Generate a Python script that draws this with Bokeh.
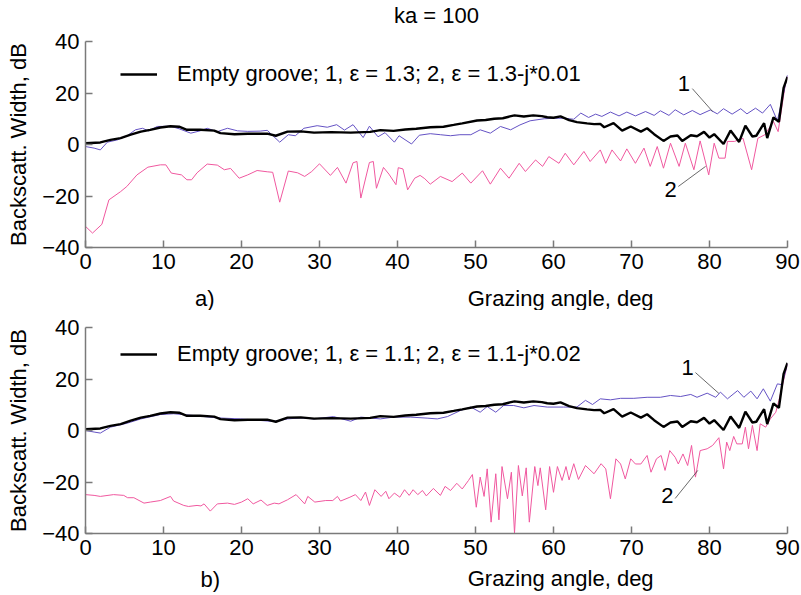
from bokeh.plotting import figure
from bokeh.layouts import column
from bokeh.models import FixedTicker, Label, Legend, LegendItem, Arrow
from bokeh.embed import file_html
from bokeh.resources import INLINE

# ---------------- data ----------------
# Empty groove (black, same in both panels)
empty_x = [0, 1.9, 3.2, 4.5, 5.8, 7.1, 8.3, 9.6, 10.9, 12.0, 13.0, 14.7, 16.5, 17.3, 19.1, 20.8,
           23.3, 24.4, 25.9, 27.6, 29.3, 31.5, 34.0, 36.5, 37.8, 39.5, 41.0, 42.4, 44.2, 45.9,
           47.2, 48.3, 50.2, 51.3, 52.4, 53.5, 54.4, 55.0, 56.2, 57.4, 58.5, 59.2, 60.0, 60.9,
           62.0, 63.0, 64.3, 65.2, 66.0, 66.5, 67.7, 68.8, 69.9, 71.2, 72.0, 72.9, 74.1, 75.0,
           75.9, 76.5, 77.6, 78.4, 79.3, 80.0, 80.6, 81.8, 82.7, 83.8, 84.6, 85.5, 86.0, 87.0,
           87.4, 88.2, 88.9, 89.5, 90.0]
empty_y = [0.5, 0.8, 1.8, 2.5, 3.8, 5.0, 5.7, 6.6, 7.1, 6.9, 5.7, 5.7, 5.4, 4.4, 4.0, 4.2,
           4.2, 3.4, 5.0, 5.1, 4.6, 4.8, 4.6, 4.9, 5.6, 5.3, 5.8, 6.1, 6.7, 6.9,
           7.6, 8.2, 9.3, 9.5, 10.0, 10.2, 10.9, 11.3, 10.9, 11.3, 11.0, 10.6, 10.4, 10.9,
           9.5, 8.7, 8.2, 7.9, 8.0, 6.7, 8.3, 5.4, 7.0, 5.0, 6.3, 4.0, 1.4, 3.1,
           3.5, 1.4, 3.6, 3.2, 4.9, 2.7, 4.0, 0.2, 5.4, 1.0, 7.3, 3.1, 3.4, 8.3,
           2.5, 10.5, 8.8, 22.0, 26.3]

# Panel a), curve 1: eps = 1.3
a1_x = [0, 1.1, 1.9, 2.8, 4.1, 5.4, 6.4, 7.3, 8.1, 9.2, 10.9, 12.0, 13.5, 14.7, 15.6, 16.9,
        18.2, 19.5, 20.8, 22.4, 23.3, 24.9, 26.0, 26.9, 28.0, 29.7, 31.0, 32.2, 33.2, 34.3,
        35.6, 36.4, 37.5, 38.4, 39.6, 40.2, 41.8, 42.8, 44.2, 45.5, 46.8, 48.0, 49.4, 50.6,
        51.9, 53.2, 54.5, 55.7, 57.0, 58.8, 60.3, 61.4, 62.6, 63.5, 64.5, 65.4, 66.2, 67.3,
        68.4, 69.4, 70.5, 71.8, 72.9, 73.7, 74.8, 75.6, 76.7, 77.8, 78.8, 80.1, 81.0, 81.8,
        82.9, 84.0, 84.8, 85.9, 86.8, 87.8, 88.7, 89.5, 90.0]
a1_y = [-0.8, -1.4, -2.1, 0.9, 1.8, 3.5, 5.7, 6.3, 5.3, 7.0, 7.1, 6.1, 4.4, 5.3, 6.3, 5.0,
        6.3, 5.3, 5.1, 5.2, 5.5, 0.9, 3.8, 3.4, 6.3, 7.3, 6.7, 7.7, 5.6, 7.7,
        2.7, 7.1, 3.0, 4.6, 0.9, 3.4, 0.2, 3.6, 4.2, 3.8, 3.4, 3.8, 3.8, 5.7,
        4.4, 7.0, 5.7, 7.6, 9.2, 10.0, 10.2, 10.2, 9.8, 12.2, 10.5, 11.8, 10.9, 12.6,
        11.1, 12.6, 11.1, 12.8, 11.3, 13.1, 11.3, 13.5, 11.5, 13.2, 11.6, 13.4, 11.9, 13.9,
        11.8, 13.9, 11.9, 14.1, 12.2, 15.6, 9.2, 20.0, 27.0]

# Panel a), curve 2: eps = 1.3 - j*0.01
a2_x = [0, 0.9, 2.1, 3.0, 4.5, 5.3, 6.6, 8.0, 9.6, 10.3, 11.0, 12.3, 13.0, 13.6, 14.3, 15.6,
        16.9, 17.8, 18.6, 19.7, 20.8, 22.0, 23.3, 24.0, 24.9, 26.0, 27.2, 28.1, 29.0, 30.0,
        31.4, 32.3, 33.4, 34.3, 34.8, 35.3, 36.4, 36.9, 37.3, 38.2, 38.9, 39.8, 40.1, 40.7,
        41.3, 42.2, 42.9, 43.5, 44.2, 45.5, 47.0, 48.3, 49.4, 50.9, 51.9, 53.2, 54.3, 55.6,
        56.4, 57.7, 58.6, 59.4, 60.7, 61.5, 62.6, 63.9, 64.7, 66.0, 66.7, 67.5, 68.6, 69.4,
        70.5, 71.6, 72.4, 73.3, 74.1, 75.0, 76.1, 76.9, 78.0, 78.8, 79.9, 80.6, 81.2, 82.0,
        82.3, 83.2, 84.3, 85.4, 86.2, 87.1, 88.2, 88.8, 89.7, 90.0]
a2_y = [-31.8, -34.4, -31.0, -21.5, -18.3, -16.3, -11.8, -8.8, -7.9, -7.9, -11.1, -11.8, -13.7, -13.7, -11.0, -7.6,
        -8.0, -9.8, -9.3, -13.1, -11.8, -10.1, -10.6, -10.8, -22.4, -10.3, -11.0, -12.4, -10.5, -7.5,
        -12.0, -8.9, -15.0, -7.1, -6.6, -20.8, -7.0, -6.6, -17.0, -8.9, -11.5, -15.6, -9.0, -9.5,
        -17.6, -13.1, -12.0, -13.3, -15.4, -12.4, -14.4, -11.1, -15.0, -10.2, -15.4, -9.2, -13.1, -7.3,
        -10.5, -6.0, -8.5, -4.7, -7.3, -3.4, -7.9, -2.7, -6.6, -2.1, -7.3, -2.1, -6.4, -1.7,
        -7.3, -1.4, -8.5, -0.8, -9.2, 0.5, -8.5, 0.5, -9.8, 1.4, -11.8, 0.5, -5.3, -5.3,
        1.2, 1.2, 2.4, -9.8, 2.4, 3.8, 8.9, 5.0, 23.0, 26.4]

# Panel b), curve 1: eps = 1.1
b1_x = [0, 1.1, 1.9, 3.2, 5.3, 7.1, 9.6, 11.3, 13.9, 16.9, 19.9, 22.4, 24.1, 25.9, 27.6, 29.3,
        31.8, 34.0, 35.3, 37.8, 39.5, 41.7, 43.8, 45.1, 46.4, 48.1, 49.4, 50.6, 51.5, 52.6,
        53.6, 54.9, 56.2, 57.5, 59.2, 61.3, 63.0, 64.1, 65.0, 66.0, 67.3, 68.6, 70.3, 72.0,
        73.7, 75.0, 76.3, 77.6, 78.4, 79.7, 80.8, 81.4, 82.3, 83.6, 84.4, 85.3, 86.1, 86.9,
        87.8, 88.7, 89.3, 90.0]
b1_y = [0.0, -0.6, -1.0, 1.3, 2.8, 4.5, 6.2, 6.5, 5.8, 4.9, 4.5, 3.9, 3.5, 4.5, 4.9, 4.5,
        5.4, 3.6, 5.2, 4.5, 5.2, 5.2, 4.8, 4.5, 5.4, 7.8, 9.1, 7.1, 9.3, 7.1,
        9.7, 9.7, 8.8, 9.7, 9.1, 9.1, 9.1, 11.7, 10.1, 12.3, 11.9, 12.5, 12.5, 12.9,
        12.9, 13.6, 13.2, 14.0, 12.9, 14.5, 12.9, 14.9, 12.3, 15.5, 12.9, 15.3, 12.3, 16.2,
        11.4, 18.1, 17.8, 25.9]

# Panel b), curve 2: eps = 1.1 - j*0.02
b2_x = [0, 1.1, 1.9, 3.6, 4.9, 5.4, 6.2, 7.5, 8.3, 9.6, 10.9, 11.3, 12.6, 13.2, 14.3, 14.8,
        15.2, 16.0, 16.9, 18.2, 19.1, 20.0, 20.8, 21.5, 22.5, 23.3, 24.2, 24.8, 25.9, 27.0,
        28.1, 28.5, 29.4, 30.8, 31.7, 32.3, 32.7, 33.9, 34.6, 35.3, 35.9, 36.4, 37.1, 37.9,
        38.5, 38.9, 39.6, 40.3, 40.9, 41.5, 42.0, 42.6, 43.2, 43.7, 44.6, 45.5, 46.1, 46.8,
        47.6, 48.3, 49.1, 49.6, 50.1, 50.6, 51.1, 51.5, 52.0, 52.6, 53.0, 53.4, 54.1, 54.6,
        55.0, 55.5, 56.0, 56.5, 56.9, 57.6, 58.0, 58.3, 59.0, 59.5, 60.0, 60.5, 61.1, 61.6,
        62.0, 62.6, 63.2, 64.1, 65.2, 66.1, 66.7, 67.3, 68.0, 68.6, 69.2, 69.9, 70.5, 71.2,
        72.0, 72.5, 73.2, 73.8, 74.3, 74.9, 75.6, 76.0, 76.6, 77.2, 77.7, 78.2, 78.8, 79.7,
        80.4, 81.2, 81.8, 82.2, 82.6, 83.1, 83.5, 84.2, 84.6, 85.0, 85.5, 86.1, 86.5, 87.2,
        87.8, 88.5, 88.9, 90.0]
b2_y = [-24.9, -25.2, -25.6, -24.9, -25.2, -26.1, -26.1, -28.2, -27.8, -27.2, -25.6, -27.4, -29.1, -29.5, -29.1, -29.3,
        -28.5, -31.3, -28.5, -28.2, -28.7, -27.8, -26.5, -28.5, -27.0, -29.1, -28.2, -28.5, -26.9, -24.9,
        -28.5, -25.6, -27.8, -27.2, -27.2, -25.6, -27.4, -25.9, -24.9, -27.2, -23.9, -29.1, -23.0, -25.6,
        -23.6, -26.5, -24.3, -25.9, -23.0, -25.2, -23.0, -24.9, -23.3, -25.4, -22.5, -25.2, -21.7, -23.3,
        -20.5, -22.7, -19.4, -17.1, -29.8, -18.1, -25.6, -14.9, -35.6, -16.8, -34.7, -14.0, -26.5, -16.2,
        -39.9, -13.6, -25.4, -14.5, -35.6, -14.0, -21.4, -14.5, -30.8, -14.0, -24.0, -14.0, -19.4, -14.0,
        -19.2, -12.9, -19.0, -13.6, -16.8, -12.9, -14.9, -26.5, -11.0, -13.0, -18.8, -11.0, -13.0, -13.0,
        -9.7, -16.2, -11.0, -9.7, -15.5, -7.8, -10.4, -13.0, -9.1, -13.6, -5.8, -18.1, -7.8, -7.1,
        -5.8, -2.8, -14.9, -4.5, -7.8, -2.3, -5.2, -5.2, 1.3, -7.1, 2.0, -7.8, 2.6, 1.3,
        4.5, 7.1, 11.7, 25.9]

x_ticks = [0, 10, 20, 30, 40, 50, 60, 70, 80, 90]
y_ticks = [-40, -20, 0, 20, 40]

title_text = "ka = 100"
legend_a = "Empty groove; 1, \u03b5 = 1.3; 2, \u03b5 = 1.3-j*0.01"
legend_b = "Empty groove; 1, \u03b5 = 1.1; 2, \u03b5 = 1.1-j*0.02"
xlabel_text = "Grazing angle, deg"
ylabel_text = "Backscatt. Width, dB"

# curve-number callouts: (label, label x, label y, leader x0, y0, x1, y1)
callouts_a = [("1", 76.7, 23.7, 77.8, 21.7, 80.4, 12.8),
              ("2", 75.0, -17.5, 76.0, -16.3, 79.5, -8.5)]
callouts_b = [("1", 77.2, 24.5, 78.2, 22.5, 81.2, 14.4),
              ("2", 74.6, -25.2, 75.6, -26.4, 78.5, -15.5)]

FONT = "Liberation Sans"
FS = "22px"
BLUE = "#6452c4"
PINK = "#f0589f"
AXIS = "#7a7a7a"
LEFT, RIGHT = 85, 14


def strip(height):
    s = figure(width=801, height=height, x_range=(0, 90), y_range=(0, height),
               x_axis_type=None, y_axis_type=None, output_backend="svg",
               toolbar_location=None, min_border_left=LEFT, min_border_right=RIGHT,
               min_border_top=0, min_border_bottom=0)
    s.outline_line_color = None
    s.grid.visible = False
    return s


def add_text(p, x, y, t, align):
    p.add_layout(Label(x=x, y=y, text=t, text_align=align, text_baseline="middle",
                       text_font=FONT, text_font_size=FS, text_color="black"))


def make_panel(height, top, bottom, c1x, c1y, c2x, c2y, legend_text, legend_loc, callouts):
    p = figure(width=801, height=height, x_range=(0, 90), y_range=(-40, 40),
               output_backend="svg", toolbar_location=None,
               min_border_left=LEFT, min_border_right=RIGHT,
               min_border_top=top, min_border_bottom=bottom)
    p.outline_line_color = None
    p.grid.visible = False

    for ax in (p.xaxis[0], p.yaxis[0]):
        ax.axis_line_color = AXIS
        ax.axis_line_width = 1.5
        ax.major_tick_line_color = AXIS
        ax.major_tick_line_width = 1.5
        ax.major_tick_in = 7
        ax.major_tick_out = 0
        ax.minor_tick_line_color = None
        ax.major_label_text_font = FONT
        ax.major_label_text_font_size = FS
        ax.major_label_text_color = "black"
    p.xaxis[0].ticker = FixedTicker(ticks=x_ticks)
    p.yaxis[0].ticker = FixedTicker(ticks=y_ticks)
    p.xaxis[0].major_label_standoff = 6
    p.yaxis[0].major_label_standoff = 6
    p.yaxis[0].axis_label = ylabel_text
    p.yaxis[0].axis_label_text_font = FONT
    p.yaxis[0].axis_label_text_font_size = FS
    p.yaxis[0].axis_label_text_font_style = "normal"
    p.yaxis[0].axis_label_text_color = "black"
    p.yaxis[0].axis_label_standoff = 8

    r2 = p.line(c2x, c2y, line_color=PINK, line_width=1)
    r1 = p.line(c1x, c1y, line_color=BLUE, line_width=1)
    r0 = p.line(empty_x, empty_y, line_color="black", line_width=2.4)

    leg = Legend(items=[LegendItem(label=legend_text, renderers=[r0])],
                 location=legend_loc, padding=0, margin=0, spacing=0,
                 border_line_color=None, background_fill_alpha=0,
                 glyph_width=37, glyph_height=20, label_height=20,
                 label_standoff=20, label_text_font=FONT,
                 label_text_font_size=FS, label_text_color="black")
    p.add_layout(leg)

    for (t, lx, ly, x0, y0, x1, y1) in callouts:
        add_text(p, lx, ly, t, "center")
        p.add_layout(Arrow(end=None, x_start=x0, y_start=y0, x_end=x1, y_end=y1,
                           line_color="#444444", line_width=0.8))
    return p


# title strip (0-28 px)
s0 = strip(28)
add_text(s0, 45, 13.5, title_text, "center")

# panel a (28-286 px): frame 41..247
pa = make_panel(258, 13, 39, a1_x, a1_y, a2_x, a2_y, legend_a, (35, 160), callouts_a)

# label strip a (286-310 px)
sa = strip(24)
add_text(sa, 15.3, 12, "a)", "center")
add_text(sa, 49.0, 12, xlabel_text, "left")

# panel b (310-564 px): frame 327..533
pb = make_panel(254, 17, 31, b1_x, b1_y, b2_x, b2_y, legend_b, (35, 166), callouts_b)

# label strip b (564-595 px)
sb = strip(31)
add_text(sb, 16.0, 16, "b)", "center")
add_text(sb, 49.0, 17, xlabel_text, "left")

layout = column(s0, pa, sa, pb, sb, spacing=0)
open("out.html", "w").write(file_html(layout, INLINE))
